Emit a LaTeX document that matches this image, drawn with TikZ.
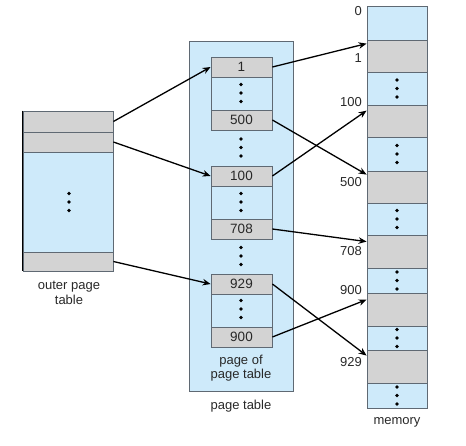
\documentclass[tikz,border=0pt]{standalone}
\usepackage{fontspec}
\setmainfont{Liberation Sans}
\usetikzlibrary{arrows.meta}
\definecolor{lblue}{RGB}{206,234,250}
\definecolor{lgray}{RGB}{211,211,211}
\definecolor{bord}{RGB}{95,105,115}
\definecolor{txt}{RGB}{40,40,40}
\tikzset{
  cellg/.style={draw=bord, line width=0.8pt, fill=lgray, inner sep=0pt, minimum width=#1, text=txt, font=\fontsize{13.5}{15}\selectfont},
  cellb/.style={draw=bord, line width=0.8pt, fill=lblue, inner sep=0pt, minimum width=#1},
  arr/.style={line width=1.3pt, -{Stealth[length=8pt,width=6.5pt]}},
  dotc/.style={circle, fill=black, inner sep=0pt, minimum size=3.6pt},
  lbl/.style={font=\fontsize{13}{14.5}\selectfont, text=txt, inner sep=0pt, align=center},
}
\newcommand{\threedots}[3]{%
  \node[dotc] (#1a) at (#2,-#3+8.5) {};
  \node[dotc] (#1b) at (#2,-#3) {};
  \node[dotc] (#1c) at (#2,-#3-8.5) {};}
\begin{document}
\begin{tikzpicture}[x=1pt,y=1pt]
\useasboundingbox (0,0) rectangle (466,-446);
% ---------- outer page table ----------
\node[cellg=90pt, minimum height=21pt] (o1) at (68,-121.5) {};
\node[cellg=90pt, minimum height=20pt] (o2) at (68,-142) {};
\node[cellb=90pt, minimum height=100pt] (ob) at (68,-202) {};
\node[cellg=90pt, minimum height=19pt] (o3) at (68,-261.5) {};
\draw[line width=1.5pt] (o1.north west) -- (o3.south west);
\threedots{od}{69}{202}
\node[lbl] (olab) at (69,-293) {outer page\\table};
% ---------- page table ----------
\node[cellb=104pt, minimum height=350pt] (pt) at (241,-216) {};
\node[cellb=61pt, minimum height=73pt] (p1) at (241.5,-93.5) {};
\node[cellb=61pt, minimum height=73pt] (p2) at (241.5,-202.5) {};
\node[cellb=61pt, minimum height=73pt] (p3) at (241.5,-310.5) {};
\node[cellg=61pt, minimum height=20pt] (e1) at (241.5,-67) {1};
\node[cellg=61pt, minimum height=20pt] (e500) at (241.5,-120) {500};
\node[cellg=61pt, minimum height=20pt] (e100) at (241.5,-176) {100};
\node[cellg=61pt, minimum height=20pt] (e708) at (241.5,-229) {708};
\node[cellg=61pt, minimum height=20pt] (e929) at (241.5,-284) {929};
\node[cellg=61pt, minimum height=20pt] (e900) at (241.5,-337) {900};
\threedots{pa}{241}{93}
\threedots{pb}{241}{147.5}
\threedots{pc}{241}{202}
\threedots{pd}{241}{256}
\threedots{pe}{241}{309}
\node[lbl] (ppt) at (241,-368) {page of\\page table};
\node[lbl] (ptl) at (241,-406) {page table};
% ---------- memory ----------
\node[cellb=60pt, minimum height=34pt] (m0) at (397,-23) {};
\node[cellg=60pt, minimum height=32pt] (m1) at (397,-56) {};
\node[cellb=60pt, minimum height=33pt] (mb1) at (397,-88.5) {};
\node[cellg=60pt, minimum height=32pt] (m100) at (397,-121) {};
\node[cellb=60pt, minimum height=34pt] (mb2) at (397,-154) {};
\node[cellg=60pt, minimum height=32pt] (m500) at (397,-187) {};
\node[cellb=60pt, minimum height=32pt] (mb3) at (397,-219) {};
\node[cellg=60pt, minimum height=33pt] (m708) at (397,-251.5) {};
\node[cellb=60pt, minimum height=25pt] (mb4) at (397,-280.5) {};
\node[cellg=60pt, minimum height=33pt] (m900) at (397,-309.5) {};
\node[cellb=60pt, minimum height=24pt] (mb5) at (397,-338) {};
\node[cellg=60pt, minimum height=33pt] (m929) at (397,-366.5) {};
\node[cellb=60pt, minimum height=25pt] (mb6) at (397,-395.5) {};
\threedots{ma}{397}{88.5}
\threedots{mb}{397}{154}
\threedots{mc}{397}{219}
\threedots{md}{397}{280.5}
\threedots{me}{397}{338}
\threedots{mf}{397}{395.5}
\node[lbl, anchor=east] (l0) at (362,-11) {0};
\node[lbl, anchor=east] (l1) at (362,-58) {1};
\node[lbl, anchor=east] (l100) at (362,-102) {100};
\node[lbl, anchor=east] (l500) at (362,-182) {500};
\node[lbl, anchor=east] (l708) at (362,-251) {708};
\node[lbl, anchor=east] (l900) at (362,-290) {900};
\node[lbl, anchor=east] (l929) at (362,-362) {929};
\node[lbl] (mlab) at (397,-422) {memory};
% ---------- arrows ----------
\draw[arr] (o1.east) -- (e1.west);
\draw[arr] (o2.east) -- (e100.west);
\draw[arr] (o3.east) -- (e929.west);
\draw[arr] (e1.east) -- ([yshift=-4pt]m1.north west);
\draw[arr] (e500.east) -- ([yshift=-4pt]m500.north west);
\draw[arr] (e100.east) -- ([yshift=-6pt]m100.north west);
\draw[arr] (e708.east) -- ([yshift=-7pt]m708.north west);
\draw[arr] (e929.east) -- ([yshift=-6pt]m929.north west);
\draw[arr] (e900.east) -- ([yshift=-7pt]m900.north west);
\end{tikzpicture}
\end{document}
